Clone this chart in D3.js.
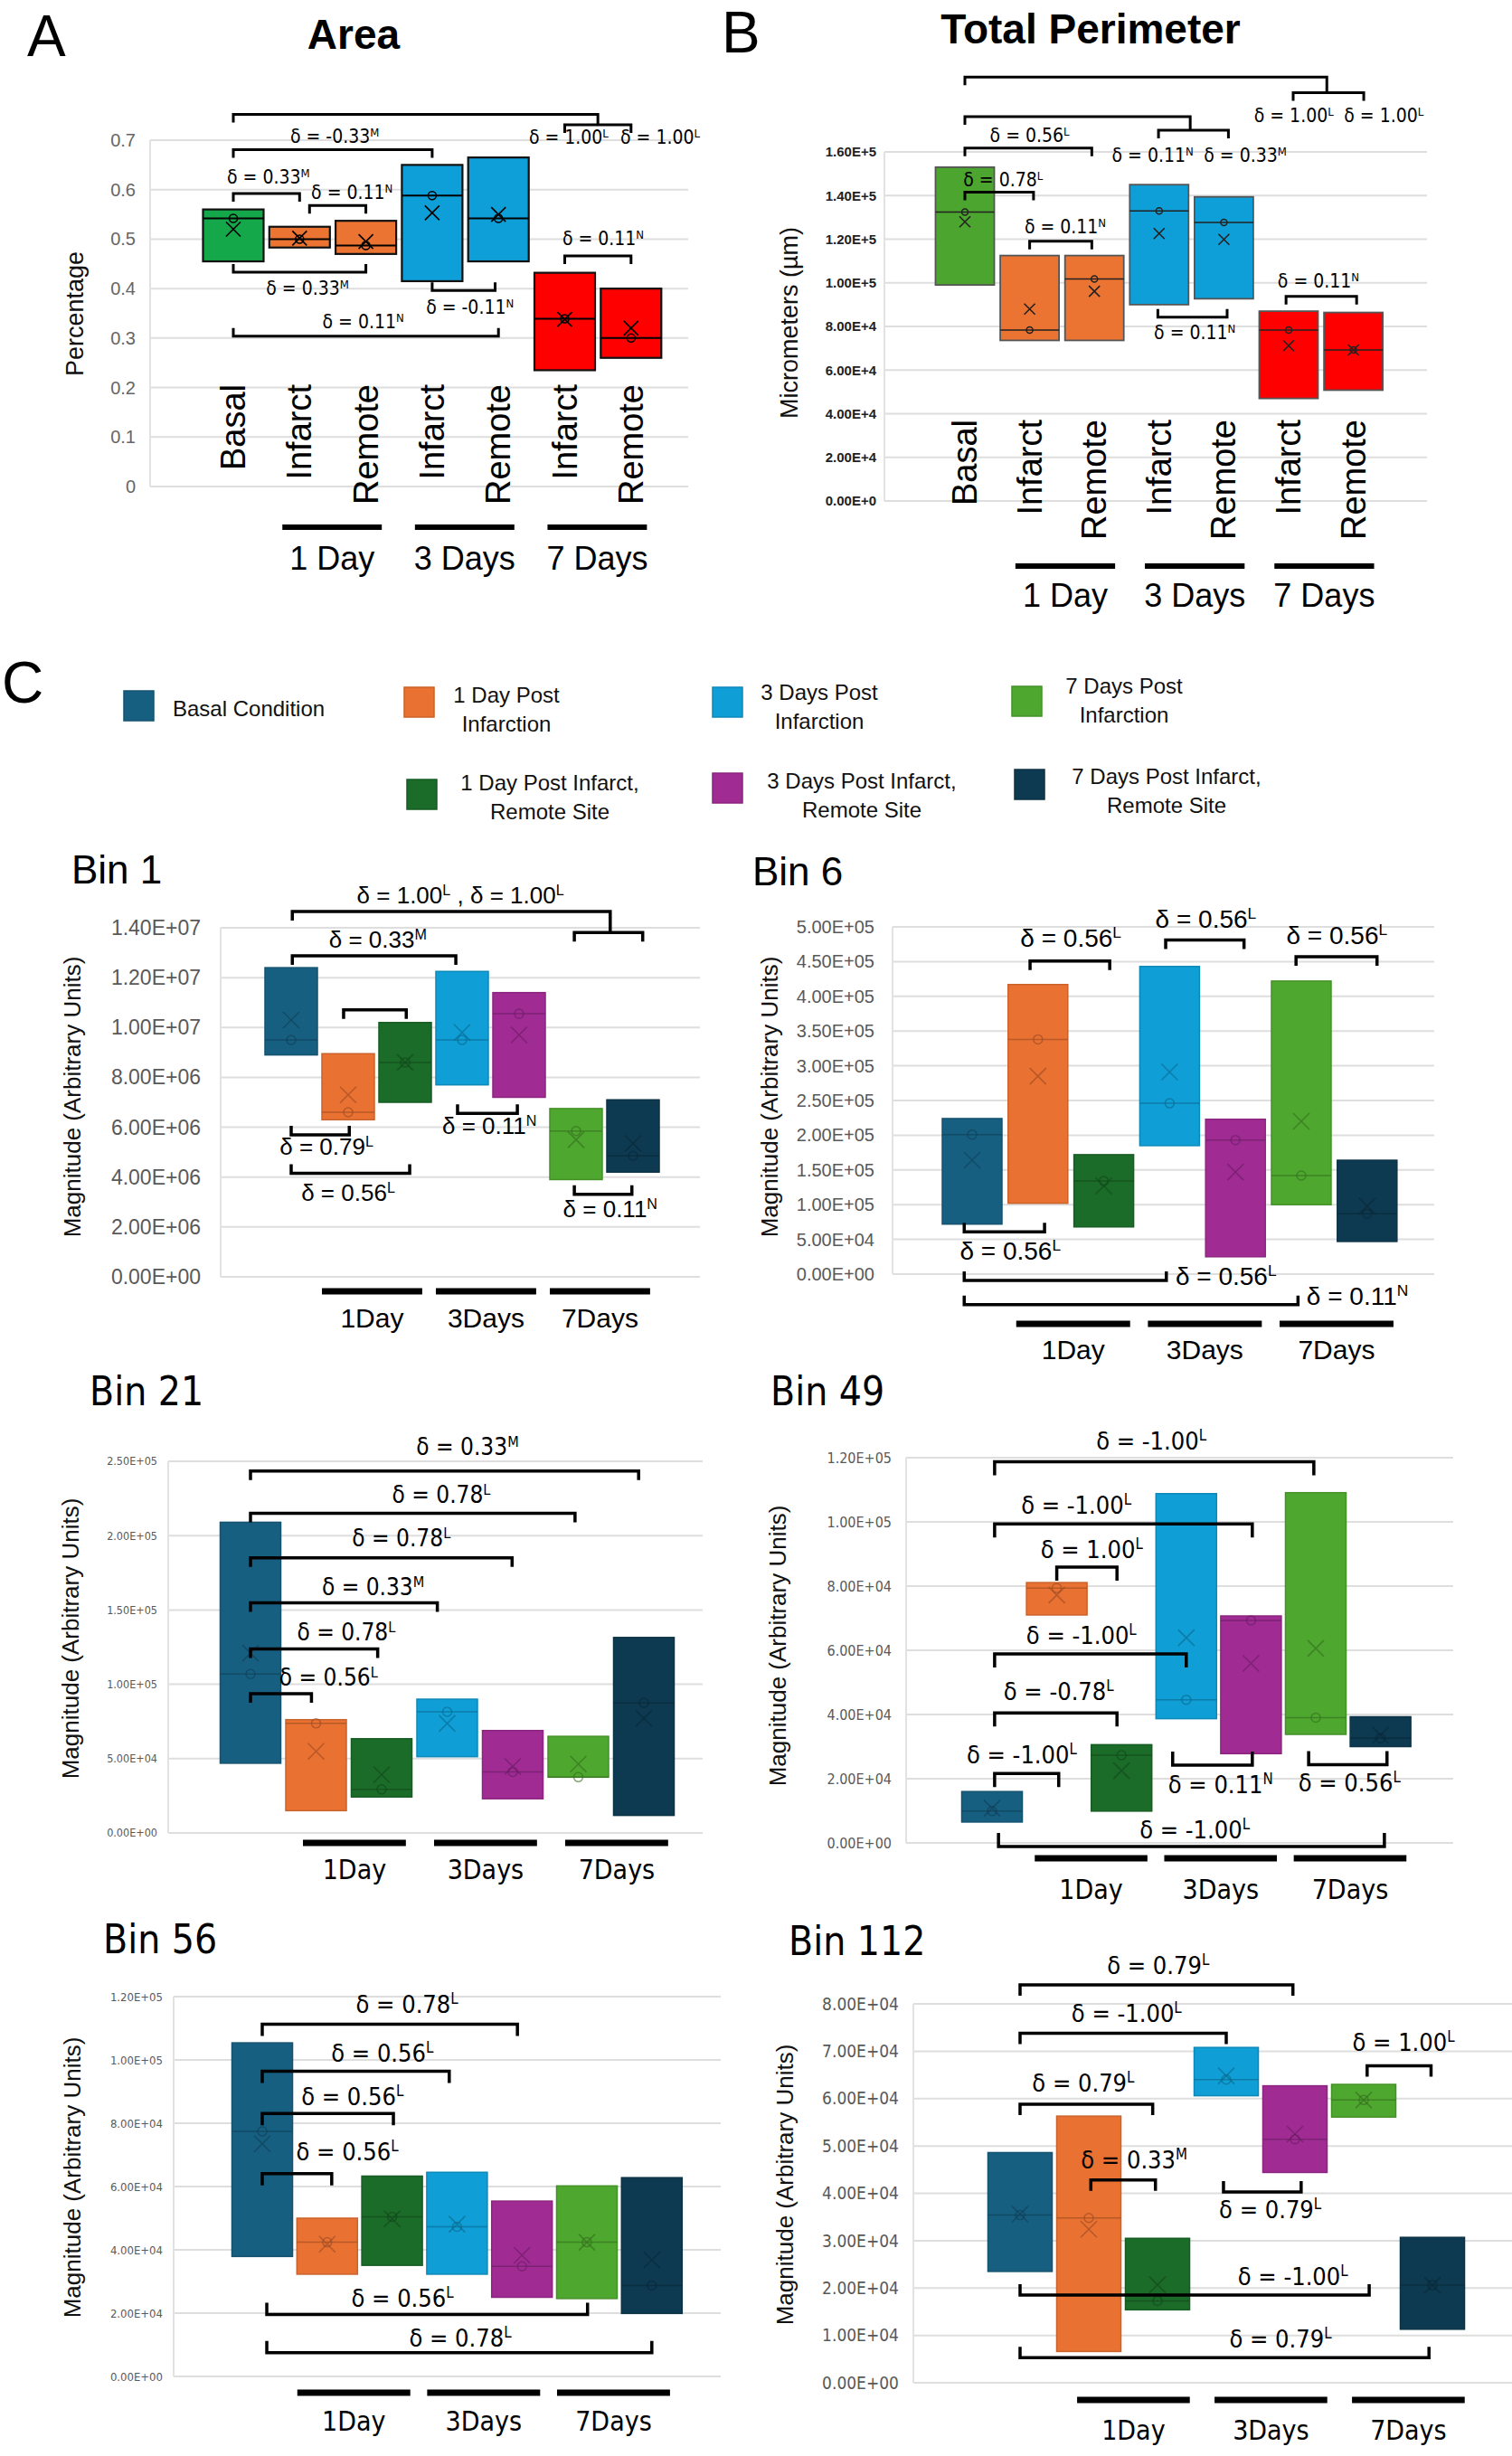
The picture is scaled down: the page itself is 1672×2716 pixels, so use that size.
<!DOCTYPE html>
<html>
<head>
<meta charset="utf-8">
<script src="https://cdn.jsdelivr.net/npm/d3@7"></script>
<style>
  body { margin: 0; background: #fff; }
  svg { display: block; }
</style>
</head>
<body>
<svg id="fig" width="1672" height="2716"></svg>
<script>
// ---- data -------------------------------------------------------------
// each box row: [q1, q3, median, mean]
const abCats = ["Basal", "Infarct", "Remote", "Infarct", "Remote", "Infarct", "Remote"];
const abGroups = ["1 Day", "3 Days", "7 Days"];
const binGroups = ["1Day", "3Days", "7Days"];

const areaBoxes = [[0.455, 0.56, 0.542, 0.52], [0.483, 0.525, 0.5, 0.502], [0.47, 0.537, 0.487, 0.495],
  [0.415, 0.65, 0.588, 0.553], [0.455, 0.665, 0.542, 0.55], [0.235, 0.432, 0.339, 0.338], [0.26, 0.4, 0.3, 0.32]];
const perimBoxes = [[99000, 153000, 132400, 128000], [73600, 112500, 78300, 88000], [73600, 112500, 101800, 96100],
  [90000, 145000, 133000, 122600], [92700, 139400, 127700, 119900], [47000, 87000, 78300, 71200], [50800, 86400, 69200, 69200]];
const bin1Boxes = [[8.9e6, 12.4e6, 9.5e6, 10.3e6], [6.3e6, 8.95e6, 6.6e6, 7.3e6], [7.0e6, 10.2e6, 8.6e6, 8.6e6],
  [7.7e6, 12.25e6, 9.5e6, 9.8e6], [7.2e6, 11.4e6, 10.55e6, 9.7e6], [3.9e6, 6.75e6, 5.85e6, 5.5e6], [4.2e6, 7.1e6, 4.85e6, 5.35e6]];
const bin6Boxes = [[72000, 224000, 201000, 164000], [102000, 417000, 338000, 285000], [68000, 172000, 134000, 127000],
  [185000, 443000, 246000, 291000], [25000, 223000, 193000, 147000], [100000, 422000, 142000, 220000], [47000, 164000, 87000, 98000]];
const bin21Boxes = [[46900, 209000, 106900, 121000], [15000, 76200, 73700, 54900], [24200, 63400, 29300, 39200],
  [51300, 90000, 81500, 73700], [23000, 68900, 41100, 44700], [37500, 65000, 37500, 46400], [11800, 131500, 87500, 77100]];
const bin49Boxes = [[6500, 16000, 9900, 10800], [71000, 81100, 79400, 77200], [9900, 30600, 27300, 22500],
  [38700, 108800, 44600, 63900], [27800, 70700, 69300, 55900], [33800, 109100, 39000, 60600], [30000, 39300, 32600, 33600]];
const bin56Boxes = [[37900, 105400, 77400, 73500], [32300, 50000, 42400, 41800], [35100, 63300, 50400, 49800],
  [32300, 64500, 47300, 48100], [25000, 55400, 34800, 38300], [24600, 60200, 42400, 42400], [19900, 62800, 28700, 36800]];
const bin112Boxes = [[23500, 48600, 35400, 35600], [6600, 56300, 34800, 32400], [15400, 30500, 17300, 20700],
  [60600, 70800, 64000, 64800], [44400, 62700, 51400, 52500], [56100, 63000, 59700, 59700], [11300, 30700, 20600, 20600]];

const areaColors = ["#14a84b", "#ec7432", "#ec7432", "#0f9fd8", "#0f9fd8", "#ff0000", "#ff0000"];
const perimColors = ["#4ba52f", "#ec7432", "#ec7432", "#0f9fd8", "#0f9fd8", "#ff0000", "#ff0000"];
const binColors = ["#175f81", "#e97132", "#1b6b29", "#0f9ed5", "#a02b93", "#4ea72e", "#0e3a51"];

const legendNames = [["Basal Condition"], ["1 Day Post", "Infarction"], ["3 Days Post", "Infarction"], ["7 Days Post", "Infarction"],
  ["1 Day Post Infarct,", "Remote Site"], ["3 Days Post Infarct,", "Remote Site"], ["7 Days Post Infarct,", "Remote Site"]];
const legendColorIdx = [0, 1, 3, 5, 2, 4, 6];

// brackets: [fromCol, toCol, value, dir, sub?]; labels: [text, col, value, anchor?]
const areaBrackets = [[0, 5.5, 0.752, "d", [5, 6, 0.731]], [0, 3, 0.681, "d"], [0, 1, 0.592, "d"], [1.15, 2, 0.568, "d"],
  [0, 2, 0.433, "u"], [3, 3.95, 0.396, "u"], [0, 4, 0.304, "u"], [5, 6, 0.466, "d"]];
const areaLabels = [["δ = 1.00^L", 5.06, 0.692], ["δ = 1.00^L", 6.44, 0.692], ["δ = -0.33^M", 1.53, 0.694], ["δ = 0.33^M", 0.53, 0.6125],
  ["δ = 0.11^N", 1.79, 0.582], ["δ = 0.33^M", 1.12, 0.387], ["δ = -0.11^N", 3.57, 0.35], ["δ = 0.11^N", 1.96, 0.3206], ["δ = 0.11^N", 5.58, 0.4876]];

const perimBrackets = [[0, 5.59, 194300, "d", [5.07, 6.16, 187100]], [0, 3.48, 176200, "d", [2.99, 4.07, 169900]],
  [0, 1.96, 161800, "d"], [0, 1.06, 141600, "d"], [1.0, 1.96, 119100, "d"], [2.98, 4.05, 84200, "u"], [4.96, 6.05, 93800, "d"]];
const perimLabels = [["δ = 1.00^L", 5.08, 173500], ["δ = 1.00^L", 6.47, 173500], ["δ = 0.11^N", 2.9, 155500], ["δ = 0.33^M", 4.33, 155500],
  ["δ = 0.56^L", 1.0, 164500], ["δ = 0.78^L", 0.59, 144300], ["δ = 0.11^N", 1.55, 122700], ["δ = 0.11^N", 3.55, 74000], ["δ = 0.11^N", 5.46, 97800]];

const bin1Brackets = [[0.02, 5.6, 14.65e6, "d", [4.97, 6.17, 13.81e6]], [0.02, 2.89, 12.88e6, "d"], [0.92, 2.02, 10.71e6, "d"],
  [0, 1.02, 5.69e6, "u"], [0, 2.08, 4.15e6, "u"], [2.92, 3.97, 6.56e6, "u"], [4.97, 5.98, 3.31e6, "u"]];
const bin1Labels = [["δ = 1.00^L , δ = 1.00^L", 2.97, 14.97e6], ["δ = 0.33^M", 1.52, 13.2e6], ["δ = 0.79^L", 0.62, 4.89e6],
  ["δ = 0.56^L", 1.0, 3.03e6], ["δ = 0.11^N", 3.48, 5.73e6], ["δ = 0.11^N", 5.6, 2.38e6]];

const bin6Brackets = [[0.88, 2.09, 451000, "d"], [2.94, 4.13, 481000, "d"], [4.92, 6.15, 457000, "d"],
  [-0.12, 1.1, 61000, "u"], [-0.12, 2.95, -9000, "u"], [-0.12, 4.95, -44000, "u"]];
const bin6Labels = [["δ = 0.56^L", 1.5, 472000], ["δ = 0.56^L", 3.55, 499000], ["δ = 0.56^L", 5.54, 475000],
  ["δ = 0.56^L", 0.58, 21000], ["δ = 0.56^L", 3.09, -15000, "start"], ["δ = 0.11^N", 5.08, -44000, "start"]];

const bin21Brackets = [[0, 5.92, 243500, "d"], [0, 4.95, 215000, "d"], [0, 3.99, 185000, "d"],
  [0, 2.85, 154800, "d"], [0, 1.94, 123800, "d"], [0, 0.93, 93600, "d"]];
const bin21Labels = [["δ = 0.33^M", 3.31, 254000], ["δ = 0.78^L", 2.91, 222000], ["δ = 0.78^L", 2.3, 192700],
  ["δ = 0.33^M", 1.87, 160000], ["δ = 0.78^L", 1.46, 129800], ["δ = 0.56^L", 1.19, 99000]];

const bin49Brackets = [[0.04, 4.97, 118700, "d"], [0.04, 4.02, 99400, "d"], [1.0, 1.93, 85900, "d"], [0.04, 3, 58900, "d"],
  [0.04, 1.93, 40500, "d"], [0.04, 1.03, 21600, "d"], [2.79, 4.02, 24200, "u"], [4.89, 6.1, 24400, "u"], [0.1, 6.06, -1100, "u"]];
const bin49Labels = [["δ = -1.00^L", 2.46, 122600], ["δ = -1.00^L", 1.3, 102400], ["δ = 1.00^L", 1.54, 88600], ["δ = -1.00^L", 1.38, 62000],
  ["δ = -0.78^L", 1.03, 44400], ["δ = -1.00^L", 0.46, 24700], ["δ = 0.11^N", 3.53, 15500], ["δ = 0.56^L", 5.52, 16000], ["δ = -1.00^L", 3.13, 1500]];

const bin56Brackets = [[0, 3.93, 111300, "d"], [0, 2.88, 96400, "d"], [0, 2.02, 83100, "d"], [0, 1.07, 64100, "d"],
  [0.07, 5.01, 19600, "u"], [0.07, 6.0, 7500, "u"]];
const bin56Labels = [["δ = 0.78^L", 2.23, 114900], ["δ = 0.56^L", 1.85, 99500], ["δ = 0.56^L", 1.39, 85600],
  ["δ = 0.56^L", 1.31, 68400], ["δ = 0.56^L", 2.16, 22100], ["δ = 0.78^L", 3.05, 9400]];

const bin112Brackets = [[0, 3.97, 84000, "d"], [0, 3.0, 73800, "d"], [5.05, 5.98, 66900, "d"], [0, 1.93, 58800, "d"],
  [1.03, 1.97, 42800, "d"], [2.96, 4.09, 40300, "u"], [0, 5.08, 18500, "u"], [0, 5.95, 5300, "u"]];
const bin112Labels = [["δ = 0.79^L", 2.01, 86300], ["δ = -1.00^L", 1.55, 76100], ["δ = 1.00^L", 5.58, 70000], ["δ = 0.79^L", 0.92, 61400],
  ["δ = 0.33^M", 1.66, 45200], ["δ = 0.79^L", 3.64, 34800], ["δ = -1.00^L", 3.97, 20700], ["δ = 0.79^L", 3.79, 7500]];

// ---- drawing ----------------------------------------------------------
const REG = "'Liberation Sans', Arial, sans-serif";
const COND = "'Liberation Sans Narrow', 'DejaVu Sans Condensed', 'Liberation Sans', sans-serif";
const svg = d3.select("#fig");

const fmtE = pad => d => {
  if (d === 0) return pad ? "0.00E+00" : "0.00E+0";
  const e = Math.floor(Math.log10(d) + 1e-9);
  const m = d / Math.pow(10, e);
  return m.toFixed(2) + "E+" + (pad ? String(e).padStart(2, "0") : e);
};

function richText(sel, str) {
  str.split(/(\^\w)/).forEach(part => {
    if (!part) return;
    if (part[0] === "^") sel.append("tspan").attr("baseline-shift", "super").attr("font-size", "62%").text(part.slice(1));
    else sel.append("tspan").text(part);
  });
}

function panel(c, boxes, colors, brackets, labels) {
  const g = svg.append("g");
  const x = d3.scaleLinear().domain([0, 6]).range([c.c0, c.c0 + 6 * c.step]);
  const y = d3.scaleLinear().domain([0, c.max]).range([c.yBot, c.yTop]);
  const ticks = d3.range(0, c.max + c.tickStep / 2, c.tickStep);

  g.selectAll(".grid").data(ticks).join("line")
    .attr("x1", c.x0).attr("x2", c.x1).attr("y1", d => y(d)).attr("y2", d => y(d))
    .attr("stroke", "#dedede").attr("stroke-width", 2);
  g.append("line").attr("x1", c.x0).attr("x2", c.x0).attr("y1", y(c.max)).attr("y2", y(0))
    .attr("stroke", "#e2e2e2").attr("stroke-width", 2);
  g.selectAll(".tk").data(ticks).join("text")
    .attr("x", c.tickX).attr("y", d => y(d)).attr("dy", "0.35em").attr("text-anchor", "end")
    .attr("font-family", c.tickFamily || REG).attr("font-size", c.tickSize).attr("font-weight", c.tickWeight || "normal")
    .attr("fill", c.tickColor || "#595959").text(c.fmt);

  g.append("text").attr("transform", `translate(${c.yl[1]},${c.yl[2]}) rotate(-90)`)
    .attr("text-anchor", "middle").attr("dominant-baseline", "central")
    .attr("font-family", REG).attr("font-size", c.yl[3]).attr("fill", "#111").text(c.yl[0]);

  g.append("text").attr("x", c.title[1]).attr("y", c.title[2]).attr("text-anchor", c.title[4] || "start")
    .attr("font-family", c.titleFamily || REG).attr("font-weight", c.titleWeight || "normal")
    .attr("font-size", c.title[3]).attr("fill", "#000").text(c.title[0]);

  // boxes
  const bw = c.boxW;
  const bx = g.selectAll(".box").data(boxes).join("g");
  bx.append("rect").attr("x", (d, i) => x(i) - bw / 2).attr("y", d => y(d[1]))
    .attr("width", bw).attr("height", d => y(d[0]) - y(d[1]))
    .attr("fill", (d, i) => colors[i])
    .attr("stroke", (d, i) => c.boxStroke || d3.color(colors[i]).darker(0.4))
    .attr("stroke-width", c.boxStrokeW || 1.5);
  const mk = (d, i) => c.markColor || d3.color(colors[i]).darker(1.2);
  bx.append("line").attr("x1", (d, i) => x(i) - bw / 2).attr("x2", (d, i) => x(i) + bw / 2)
    .attr("y1", d => y(d[2])).attr("y2", d => y(d[2])).attr("stroke", mk).attr("stroke-width", c.medW || 1.5)
    .attr("stroke-opacity", c.markOp || 0.7);
  bx.append("circle").attr("cx", (d, i) => x(i)).attr("cy", d => y(d[2])).attr("r", c.circR || 5)
    .attr("fill", "none").attr("stroke", mk).attr("stroke-width", 1.5).attr("stroke-opacity", c.markOp || 0.7);
  const s = c.xSize || 9;
  bx.append("path").attr("d", (d, i) => `M${x(i) - s},${y(d[3]) - s}L${x(i) + s},${y(d[3]) + s}M${x(i) - s},${y(d[3]) + s}L${x(i) + s},${y(d[3]) - s}`)
    .attr("stroke", mk).attr("stroke-width", 1.6).attr("stroke-opacity", c.markOp || 0.7);

  // significance brackets
  const t = c.tick;
  g.selectAll(".br").data(brackets).join("path")
    .attr("d", b => {
      const Y = y(b[2]), k = b[3] === "d" ? t : -t;
      const end = b[4] ? y(b[4][2]) : Y + k;
      let p = `M${x(b[0])},${Y + k}L${x(b[0])},${Y}L${x(b[1])},${Y}L${x(b[1])},${end}`;
      if (b[4]) {
        const S = y(b[4][2]);
        p += `M${x(b[4][0])},${S + t}L${x(b[4][0])},${S}L${x(b[4][1])},${S}L${x(b[4][1])},${S + t}`;
      }
      return p;
    })
    .attr("fill", "none").attr("stroke", "#000").attr("stroke-width", c.brW || 3.5);
  g.selectAll(".bl").data(labels).join("text")
    .attr("x", l => x(l[1])).attr("y", l => y(l[2])).attr("text-anchor", l => l[3] || "middle")
    .attr("font-family", c.labFamily || REG).attr("font-size", c.labSize).attr("fill", "#000")
    .each(function (l) { richText(d3.select(this), l[0]); });

  // category labels (panels A, B)
  if (c.cats) {
    g.selectAll(".cat").data(c.cats).join("text")
      .attr("transform", (d, i) => `translate(${x(i)},${c.catTop}) rotate(-90)`)
      .attr("text-anchor", "end").attr("dominant-baseline", "central")
      .attr("font-family", REG).attr("font-size", c.catSize).attr("fill", "#000").text(d => d);
  }

  // group bars
  c.groups.forEach((name, k) => {
    const a = x(1 + 2 * k + c.barOff[0]), b = x(2 + 2 * k + c.barOff[1]);
    g.append("rect").attr("x", a).attr("y", c.barY - c.barH / 2).attr("width", b - a).attr("height", c.barH).attr("fill", "#000");
    g.append("text").attr("x", (a + b) / 2).attr("y", c.gly).attr("text-anchor", "middle")
      .attr("font-family", c.gFamily || REG).attr("font-size", c.gSize).attr("fill", "#000").text(name);
  });
}

// Panel A
panel({ x0: 166, x1: 761, yTop: 155, yBot: 538, max: 0.7, tickStep: 0.1, fmt: d => d < 1e-9 ? "0" : d3.format(".1f")(d),
  tickX: 150, tickSize: 20, tickColor: "#666", c0: 258, step: 73.3, boxW: 67, yl: ["Percentage", 83, 347, 27],
  title: ["Area", 391, 54, 46, "middle"], titleWeight: "bold", boxStroke: "#111", boxStrokeW: 2.2, markColor: "#000", markOp: 1,
  medW: 2, circR: 4.5, xSize: 8, tick: 9, brW: 3, labSize: 21, labFamily: COND, cats: abCats, catTop: 425, catSize: 38,
  groups: abGroups, barOff: [-0.26, 0.24], barY: 583, barH: 6, gly: 630, gSize: 36 }, areaBoxes, areaColors, areaBrackets, areaLabels);

// Panel B
panel({ x0: 978, x1: 1578, yTop: 168, yBot: 554, max: 160000, tickStep: 20000, fmt: fmtE(false),
  tickX: 969, tickSize: 15, tickWeight: "bold", tickColor: "#222", c0: 1067, step: 71.6, boxW: 65, yl: ["Micrometers (µm)", 873, 357, 27],
  title: ["Total Perimeter", 1206, 48, 46, "middle"], titleWeight: "bold", boxStroke: "#555", boxStrokeW: 1.8, markColor: "#222", markOp: 1,
  medW: 1.5, circR: 3.5, xSize: 6, tick: 9, brW: 3, labSize: 21, labFamily: COND, cats: abCats, catTop: 464, catSize: 38,
  groups: abGroups, barOff: [-0.22, 0.32], barY: 626, barH: 6, gly: 671, gSize: 36 }, perimBoxes, perimColors, perimBrackets, perimLabels);

// Bins
const binBase = { tickColor: "#595959", boxW: 66, tick: 10, brW: 3.5, labSize: 26, groups: binGroups, barH: 7, gSize: 30, markOp: 0.6 };
panel(Object.assign({}, binBase, { x0: 244, x1: 774, yTop: 1026, yBot: 1412, max: 1.4e7, tickStep: 2e6, fmt: fmtE(true),
  tickX: 222, tickSize: 23, c0: 322, step: 63, boxW: 58, yl: ["Magnitude (Arbitrary Units)", 80, 1213, 26],
  title: ["Bin 1", 79, 977, 44], barOff: [-0.46, 0.3], barY: 1428, gly: 1468 }), bin1Boxes, binColors, bin1Brackets, bin1Labels);
panel(Object.assign({}, binBase, { x0: 987, x1: 1586, yTop: 1025, yBot: 1409, max: 5e5, tickStep: 5e4, fmt: fmtE(true),
  tickX: 967, tickSize: 20, c0: 1075, step: 72.8, boxW: 66, yl: ["Magnitude (Arbitrary Units)", 851, 1213, 26],
  title: ["Bin 6", 832, 979, 44], labSize: 28, barOff: [-0.33, 0.4], barY: 1464, gly: 1503 }), bin6Boxes, binColors, bin6Brackets, bin6Labels);
panel(Object.assign({}, binBase, { x0: 186, x1: 777, yTop: 1616, yBot: 2027, max: 2.5e5, tickStep: 5e4, fmt: fmtE(true),
  tickX: 174, tickSize: 12.5, tickFamily: COND, c0: 277, step: 72.5, boxW: 67, yl: ["Magnitude (Arbitrary Units)", 78, 1812, 26],
  title: ["Bin 21", 99, 1554, 44], titleFamily: COND, labFamily: COND, gFamily: COND, barOff: [-0.2, 0.37], barY: 2038, gly: 2078 }),
  bin21Boxes, binColors, bin21Brackets, bin21Labels);
panel(Object.assign({}, binBase, { x0: 1002, x1: 1607, yTop: 1612, yBot: 2038, max: 1.2e5, tickStep: 2e4, fmt: fmtE(true),
  tickX: 986, tickSize: 16, tickFamily: COND, c0: 1097, step: 71.6, boxW: 67, yl: ["Magnitude (Arbitrary Units)", 860, 1820, 26],
  title: ["Bin 49", 852, 1554, 44], titleFamily: COND, labFamily: COND, gFamily: COND, labSize: 27, tick: 15,
  barOff: [-0.34, 0.4], barY: 2055, gly: 2100 }), bin49Boxes, binColors, bin49Brackets, bin49Labels);
panel(Object.assign({}, binBase, { x0: 192, x1: 797, yTop: 2208, yBot: 2628, max: 1.2e5, tickStep: 2e4, fmt: fmtE(true),
  tickX: 180, tickSize: 13, tickFamily: COND, c0: 290, step: 71.8, boxW: 67, yl: ["Magnitude (Arbitrary Units)", 80, 2408, 26],
  title: ["Bin 56", 114, 2160, 44], titleFamily: COND, labFamily: COND, gFamily: COND, labSize: 27, tick: 13,
  barOff: [-0.46, 0.28], barY: 2646, gly: 2688 }), bin56Boxes, binColors, bin56Brackets, bin56Labels);
panel(Object.assign({}, binBase, { x0: 1010, x1: 1672, yTop: 2216, yBot: 2635, max: 8e4, tickStep: 1e4, fmt: fmtE(true),
  tickX: 994, tickSize: 19, tickFamily: COND, c0: 1128, step: 76, boxW: 71, yl: ["Magnitude (Arbitrary Units)", 868, 2416, 26],
  title: ["Bin 112", 872, 2162, 44], titleFamily: COND, labFamily: COND, gFamily: COND, labSize: 27, tick: 12,
  barOff: [-0.17, 0.47], barY: 2654, gly: 2698 }), bin112Boxes, binColors, bin112Brackets, bin112Labels);

// panel letters
[["A", 30, 62], ["B", 798, 58], ["C", 2, 777]].forEach(p =>
  svg.append("text").attr("x", p[1]).attr("y", p[2]).attr("font-family", REG).attr("font-size", 64).text(p[0]));

// legend for C: [swatch x, swatch y, text x, first baseline, anchor]
const legendPos = [[137, 764, 191, 792, "start"], [447, 760, 560, 777, "middle"], [788, 760, 906, 774, "middle"], [1119, 759, 1243, 767, "middle"],
  [450, 862, 608, 874, "middle"], [788, 855, 953, 872, "middle"], [1122, 851, 1290, 867, "middle"]];
const lg = svg.append("g");
legendNames.forEach((lines, i) => {
  const p = legendPos[i], col = binColors[legendColorIdx[i]];
  lg.append("rect").attr("x", p[0]).attr("y", p[1]).attr("width", 33).attr("height", 33)
    .attr("fill", col).attr("stroke", d3.color(col).darker(0.4)).attr("stroke-width", 1.5);
  const tx = lg.append("text").attr("font-family", REG).attr("font-size", 24).attr("fill", "#111").attr("text-anchor", p[4]);
  lines.forEach((ln, j) => tx.append("tspan").attr("x", p[2]).attr("y", p[3] + j * 32).text(ln));
});
</script>
</body>
</html>
